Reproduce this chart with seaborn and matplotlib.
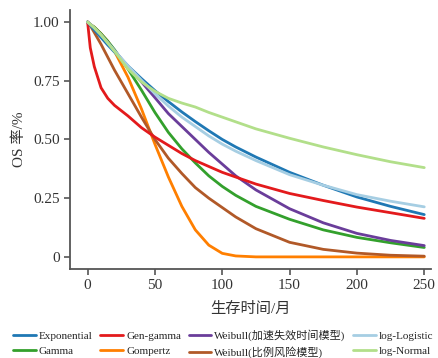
import pandas as pd
import seaborn as sns
import matplotlib.pyplot as plt

# survival curves (months vs OS rate)
months = [0, 2, 5, 10, 15, 20, 30, 40, 50, 60, 70, 80, 90, 100, 110, 125, 150, 175, 200, 225, 250]

exponential = [1.0, 0.986, 0.966, 0.934, 0.902, 0.872, 0.813, 0.759, 0.708, 0.661, 0.617, 0.576, 0.537,
               0.50, 0.468, 0.425, 0.36, 0.305, 0.255, 0.215, 0.18]
gen_gamma = [1.0, 0.89, 0.81, 0.72, 0.675, 0.645, 0.60, 0.55, 0.51, 0.475, 0.44, 0.41, 0.385,
             0.36, 0.34, 0.31, 0.27, 0.24, 0.212, 0.188, 0.164]
weibull_aft = [1.0, 0.99, 0.975, 0.945, 0.912, 0.878, 0.81, 0.745, 0.678, 0.61, 0.555, 0.50, 0.445,
               0.395, 0.345, 0.285, 0.205, 0.145, 0.10, 0.07, 0.048]
log_logistic = [1.0, 0.99, 0.975, 0.945, 0.912, 0.878, 0.814, 0.752, 0.695, 0.642, 0.595, 0.555, 0.515,
                0.48, 0.45, 0.41, 0.35, 0.305, 0.265, 0.237, 0.213]
gamma = [1.0, 0.99, 0.978, 0.95, 0.918, 0.882, 0.80, 0.71, 0.615, 0.53, 0.46, 0.40, 0.345,
         0.30, 0.262, 0.215, 0.16, 0.115, 0.083, 0.06, 0.04]
gompertz = [1.0, 0.99, 0.978, 0.95, 0.918, 0.875, 0.765, 0.63, 0.48, 0.34, 0.215, 0.115, 0.05,
            0.015, 0.004, 0.0, 0.0, 0.0, 0.0, 0.0, 0.0]
weibull_ph = [1.0, 0.985, 0.955, 0.905, 0.85, 0.795, 0.695, 0.595, 0.50, 0.42, 0.355, 0.295, 0.25,
              0.21, 0.17, 0.12, 0.062, 0.032, 0.016, 0.007, 0.003]
log_normal = [1.0, 0.99, 0.975, 0.945, 0.91, 0.875, 0.80, 0.745, 0.705, 0.675, 0.655, 0.638, 0.615,
              0.595, 0.575, 0.545, 0.505, 0.468, 0.435, 0.405, 0.38]

models = ['Exponential', 'Gamma', 'Gen-gamma', 'Gompertz',
          'Weibull(加速失效时间模型)', 'Weibull(比例风险模型)', 'log-Logistic', 'log-Normal']
series = [exponential, gamma, gen_gamma, gompertz, weibull_aft, weibull_ph, log_logistic, log_normal]
colors = ['#1f78b4', '#33a02c', '#e31a1c', '#ff7f00', '#6a3d9a', '#b15928', '#a6cee3', '#b2df8a']

rows = []
for name, vals in zip(models, series):
    for t, s in zip(months, vals):
        rows.append({'month': t, 'os': s, 'model': name})
df = pd.DataFrame(rows)

sns.set_style('ticks')
plt.rcParams['font.family'] = ['Liberation Serif', 'Noto Sans CJK SC']

fig = plt.figure(figsize=(4.38, 3.58), dpi=100)
ax = fig.add_axes([0.160, 0.249, 0.824, 0.723])

# draw order as seen in the picture (light lines on top)
draw_order = ['Gompertz', 'Weibull(比例风险模型)', 'Gamma', 'Weibull(加速失效时间模型)',
              'Gen-gamma', 'Exponential', 'log-Logistic', 'log-Normal']
sns.lineplot(data=df, x='month', y='os', hue='model', hue_order=draw_order,
             palette=dict(zip(models, colors)), linewidth=2.0, ax=ax, legend=False)

ax.set_xlim(-13, 255)
ax.set_ylim(-0.051, 1.051)
ax.set_xticks([0, 50, 100, 150, 200, 250])
ax.set_yticks([0, 0.25, 0.5, 0.75, 1.0])
ax.set_yticklabels(['0', '0.25', '0.50', '0.75', '1.00'])
ax.tick_params(labelsize=11, colors='#555555', labelcolor='#333333', length=4, width=1.2)
ax.set_xlabel('生存时间/月', fontsize=11, color='#333333', labelpad=7)
ax.set_ylabel('OS 率/%', fontsize=11, color='#333333', labelpad=5)
sns.despine(ax=ax)
for sp in ['left', 'bottom']:
    ax.spines[sp].set_color('#555555')
    ax.spines[sp].set_linewidth(1.3)

handles = [plt.Line2D([], [], color=c, lw=2.0) for c in colors]
fig.legend(handles, models, ncol=4, loc='center', bbox_to_anchor=(0.51, 0.0405),
           frameon=False, fontsize=8, handlelength=2.0, handletextpad=0.3,
           columnspacing=0.7, labelspacing=0.45, borderpad=0)

fig.savefig('out.png', dpi=100)
